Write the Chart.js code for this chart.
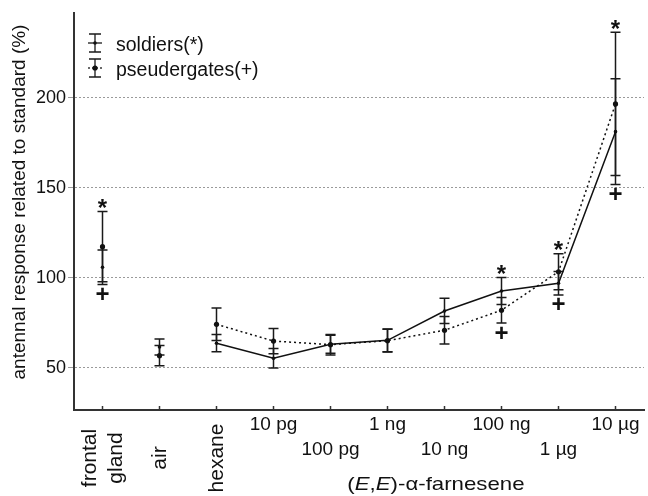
<!DOCTYPE html>
<html>
<head>
<meta charset="utf-8">
<script src="https://cdn.jsdelivr.net/npm/chart.js@4"></script>
<style>
  html, body { margin: 0; padding: 0; background: #fff; }
  canvas { display: block; }
</style>
</head>
<body>
<canvas id="chart" width="648" height="496"></canvas>
<script>
/* global Chart */

const categories = [['frontal', 'gland'], 'air', 'hexane', '10 pg', '100 pg', '1 ng', '10 ng', '100 ng', '1 µg', '10 µg']
const soldiers = [105.8, 61.5, 63.6, 55.2, 63.0, 65.2, 81.5, 92.6, 96.9, 181.1]
const soldiersErr = [9.6, 4.5, 4.8, 5.4, 5.0, 6.3, 7.0, 7.5, 6.5, 29.4]
const pseudergates = [117.2, 56.7, 74.1, 64.8, 62.8, 65.0, 70.8, 81.9, 103.3, 196.5]
const pseudergatesErr = [19.5, 5.6, 9.0, 7.0, 5.7, 6.3, 7.6, 7.1, 10.0, 39.8]
const soldiersSignif = [true, false, false, false, false, false, false, true, true, true]
const pseudergatesSignif = [true, false, false, false, false, false, false, true, true, true]
const yTicks = [50, 100, 150, 200]

const FONT = "'Liberation Sans', Arial, sans-serif"
const INK = '#111'

// hide the segments that join frontal gland, air and hexane
const joinFromHexane = ctx => ctx.p0DataIndex < 2 ? 'rgba(0,0,0,0)' : undefined

function glyphCentered (ctx, text, cx, cy) {
  const m = ctx.measureText(text)
  const h = m.actualBoundingBoxAscent + m.actualBoundingBoxDescent
  ctx.fillText(text, cx, cy + h / 2 - m.actualBoundingBoxDescent)
}

const errorBars = {
  id: 'errorBars',
  beforeDatasetsDraw (chart) {
    const { ctx, scales: { x, y } } = chart
    ctx.save()
    ctx.strokeStyle = '#1a1a1a'
    ctx.lineWidth = 1.5
    ;[[soldiers, soldiersErr], [pseudergates, pseudergatesErr]].forEach(([vals, errs]) => {
      vals.forEach((v, i) => {
        const px = x.getPixelForValue(i)
        const top = y.getPixelForValue(v + errs[i])
        const bot = y.getPixelForValue(v - errs[i])
        ctx.beginPath()
        ctx.moveTo(px, top); ctx.lineTo(px, bot)
        ctx.moveTo(px - 5, top); ctx.lineTo(px + 5, top)
        ctx.moveTo(px - 5, bot); ctx.lineTo(px + 5, bot)
        ctx.stroke()
      })
    })
    ctx.restore()
  },
  afterDatasetsDraw (chart) {
    const { ctx, scales: { x, y } } = chart
    ctx.save()
    ctx.fillStyle = INK
    ctx.textAlign = 'center'
    ctx.textBaseline = 'alphabetic'
    ctx.font = 'bold 24px ' + FONT
    categories.forEach((c, i) => {
      const px = x.getPixelForValue(i)
      const hi = Math.max(soldiers[i] + soldiersErr[i], pseudergates[i] + pseudergatesErr[i])
      const lo = Math.min(soldiers[i] - soldiersErr[i], pseudergates[i] - pseudergatesErr[i])
      if (soldiersSignif[i]) glyphCentered(ctx, '*', px, y.getPixelForValue(hi) - 8)
      if (pseudergatesSignif[i]) glyphCentered(ctx, '+', px, y.getPixelForValue(lo) + 9)
    })
    ctx.restore()
  }
}

const axisLabels = {
  id: 'axisLabels',
  afterDraw (chart) {
    const { ctx, scales: { x }, chartArea } = chart
    ctx.save()
    ctx.fillStyle = INK
    ctx.strokeStyle = '#333'
    ctx.lineWidth = 1.5
    categories.forEach((lab, i) => {
      const px = x.getPixelForValue(i)
      ctx.beginPath()
      ctx.moveTo(px, chartArea.bottom)
      ctx.lineTo(px, chartArea.bottom - 4)
      ctx.stroke()
      if (i < 3) {
        const lines = [].concat(lab)
        ctx.save()
        ctx.font = '21px ' + FONT
        ctx.textAlign = 'center'
        ctx.textBaseline = 'alphabetic'
        ctx.translate(px, 458)
        ctx.rotate(-Math.PI / 2)
        lines.forEach((t, k) => {
          ctx.fillText(t, 0, 6 + (k - (lines.length - 1) / 2) * 26)
        })
        ctx.restore()
      } else {
        ctx.font = '19px ' + FONT
        ctx.textAlign = 'center'
        ctx.textBaseline = 'alphabetic'
        ctx.fillText(lab, px, (i - 3) % 2 ? 455 : 430)
      }
    })

    // y axis title
    ctx.save()
    ctx.font = '19px ' + FONT
    ctx.textAlign = 'center'
    ctx.textBaseline = 'middle'
    ctx.translate(20, 202)
    ctx.rotate(-Math.PI / 2)
    ctx.fillText('antennal response related to standard (%)', 0, 0)
    ctx.restore()

    // x axis title (E,E)-α-farnesene, E in italics; the original type is set wide
    const parts = [['(', ''], ['E', 'italic '], [',', ''], ['E', 'italic '], [')-α-farnesene', '']]
    const stretch = 1.17
    let w = 0
    parts.forEach(p => { ctx.font = p[1] + '19px ' + FONT; w += ctx.measureText(p[0]).width })
    ctx.save()
    ctx.translate(x.getPixelForValue(5.85) - w * stretch / 2, 490)
    ctx.scale(stretch, 1)
    ctx.textAlign = 'left'
    ctx.textBaseline = 'alphabetic'
    let tx = 0
    parts.forEach(p => {
      ctx.font = p[1] + '19px ' + FONT
      ctx.fillText(p[0], tx, 0)
      tx += ctx.measureText(p[0]).width
    })
    ctx.restore()

    // legend
    const legend = [['soldiers(*)', [], 1.8], ['pseudergates(+)', [2, 2], 2.6]]
    legend.forEach(([text, dash, r], k) => {
      const ty = 46 + k * 25
      const cx = chartArea.left + 21
      const my = ty - 3
      ctx.strokeStyle = '#1a1a1a'
      ctx.lineWidth = 1.3
      ctx.setLineDash([])
      ctx.beginPath()
      ctx.moveTo(cx, my - 9); ctx.lineTo(cx, my + 9)
      ctx.moveTo(cx - 6, my - 9); ctx.lineTo(cx + 6, my - 9)
      ctx.moveTo(cx - 6, my + 9); ctx.lineTo(cx + 6, my + 9)
      ctx.stroke()
      ctx.setLineDash(dash)
      ctx.beginPath()
      ctx.moveTo(cx - 7, my); ctx.lineTo(cx + 7, my)
      ctx.stroke()
      ctx.setLineDash([])
      ctx.beginPath()
      ctx.arc(cx, my, r, 0, Math.PI * 2)
      ctx.fill()
      ctx.font = '19.5px ' + FONT
      ctx.textAlign = 'left'
      ctx.textBaseline = 'middle'
      ctx.fillText(text, chartArea.left + 42, ty)
    })
    ctx.restore()
  }
}

new Chart(document.getElementById('chart'), {
  type: 'line',
  data: {
    labels: categories,
    datasets: [{
      label: 'soldiers',
      data: soldiers,
      borderColor: INK,
      borderWidth: 1.5,
      pointRadius: 1.8,
      pointBackgroundColor: INK,
      pointBorderWidth: 0,
      tension: 0,
      segment: { borderColor: joinFromHexane }
    }, {
      label: 'pseudergates',
      data: pseudergates,
      borderColor: INK,
      borderWidth: 1.5,
      borderDash: [2, 3],
      pointRadius: 2.6,
      pointBackgroundColor: INK,
      pointBorderWidth: 0,
      tension: 0,
      segment: { borderColor: joinFromHexane }
    }]
  },
  options: {
    responsive: false,
    animation: false,
    devicePixelRatio: 1,
    layout: { padding: { top: 13, left: 0, right: 0, bottom: 0 } },
    plugins: { legend: { display: false }, tooltip: { enabled: false } },
    scales: {
      x: {
        type: 'category',
        offset: true,
        grid: { display: false },
        ticks: { display: false },
        border: { display: true, color: '#333', width: 2 },
        afterFit: s => { s.height = 86 }
      },
      y: {
        min: 26.5,
        max: 247,
        afterBuildTicks: s => { s.ticks = yTicks.map(v => ({ value: v })) },
        ticks: { font: { family: FONT, size: 18 }, color: INK, padding: 2 },
        grid: { color: '#9a9a9a', lineWidth: 1, tickLength: 6, tickColor: '#9a9a9a' },
        border: { color: '#333', width: 2, dash: [2, 2] },
        afterFit: s => { s.width = 74 }
      }
    }
  },
  plugins: [errorBars, axisLabels]
})
</script>
</body>
</html>
